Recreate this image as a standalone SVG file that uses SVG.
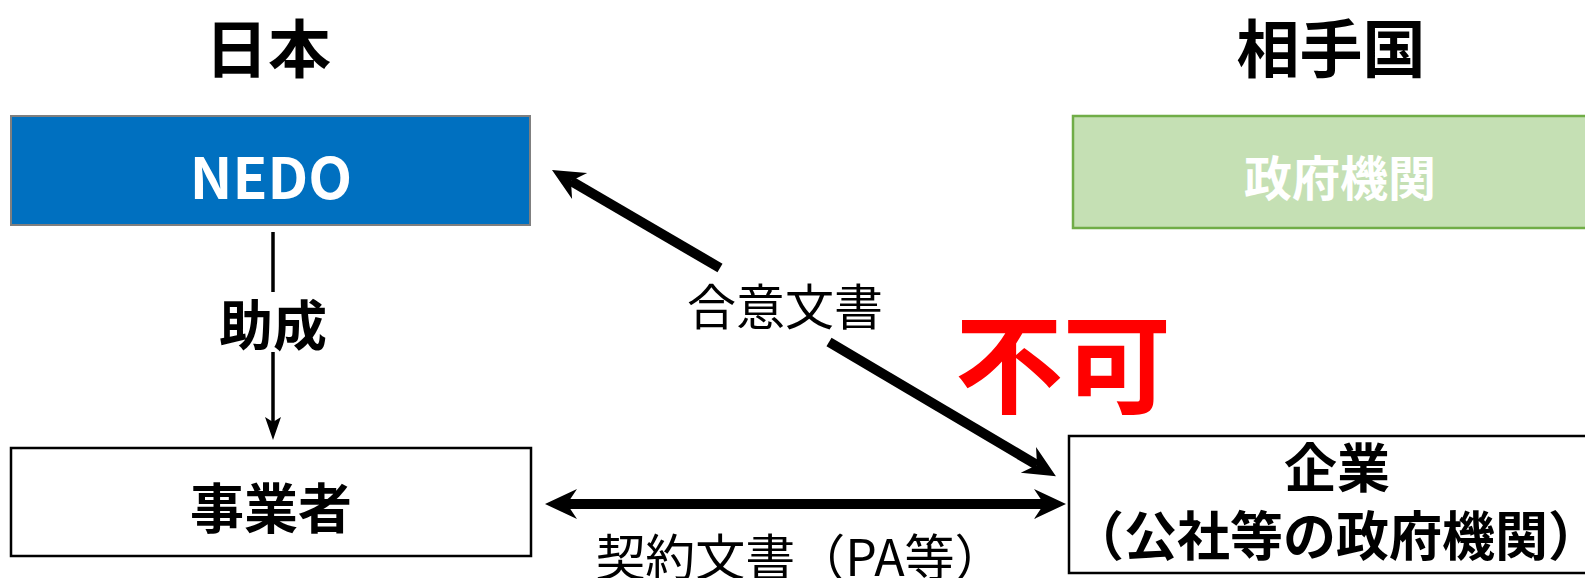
<svg xmlns="http://www.w3.org/2000/svg" width="1585" height="578" viewBox="0 0 1585 578">
<style>
text{font-family:"Noto Sans CJK JP","Noto Sans",sans-serif;text-anchor:middle;dominant-baseline:central}
.b{font-weight:bold}
.conn{stroke:#000;fill:none}
</style>
<defs>
<marker id="big" markerUnits="userSpaceOnUse" markerWidth="40" markerHeight="40" viewBox="-2 -20 40 40" refX="10" refY="0" orient="auto-start-reverse">
<path d="M0,-15 L32,0 L0,15 L10,0 Z" fill="#000"/>
</marker>
<marker id="small" markerUnits="userSpaceOnUse" markerWidth="30" markerHeight="24" viewBox="-2 -12 30 24" refX="5" refY="0" orient="auto">
<path d="M0,-8 L23,0 L0,8 L5,0 Z" fill="#000"/>
</marker>
</defs>
<rect width="1585" height="578" fill="#fff"/>
<text class="b" x="268" y="44" font-size="63">日本</text>
<text class="b" x="1331" y="44" font-size="63">相手国</text>
<g id="nedo">
<rect x="11" y="116" width="519" height="109" fill="#0070C0" stroke="#7F7F7F" stroke-width="2"/>
<text class="b" x="271" y="174" font-size="57" fill="#fff">NEDO</text>
</g>
<g id="gov">
<rect x="1073" y="116" width="520" height="112" fill="#C5E0B4" stroke="#70AD47" stroke-width="2.5"/>
<text class="b" x="1340" y="175" font-size="48" fill="#fff">政府機関</text>
</g>
<g id="jigyosha">
<rect x="11" y="448" width="520" height="108" fill="#fff" stroke="#000" stroke-width="2.5"/>
<text class="b" x="271" y="505" font-size="54">事業者</text>
</g>
<g id="kigyo">
<rect x="1069" y="436" width="530" height="137" fill="#fff" stroke="#000" stroke-width="2.5"/>
<text class="b" x="1337" y="465" font-size="53">企業</text>
<text class="b" x="1336" y="533" font-size="53">（公社等の政府機関）</text>
</g>
<g id="connectors">
<line class="conn" x1="273" y1="232" x2="273" y2="292" stroke-width="3.5"/>
<line class="conn" x1="273" y1="352" x2="273" y2="422" stroke-width="3.5" marker-end="url(#small)"/>
<text class="b" x="273" y="322" font-size="54">助成</text>
<line class="conn" x1="720" y1="268" x2="571" y2="181" stroke-width="10" marker-end="url(#big)"/>
<line class="conn" x1="829" y1="342" x2="1037" y2="465" stroke-width="10" marker-end="url(#big)"/>
<text x="785" y="303" font-size="49">合意文書</text>
<line class="conn" x1="567" y1="504" x2="1044" y2="504" stroke-width="10" marker-start="url(#big)" marker-end="url(#big)"/>
<text x="800" y="554" font-size="50">契約文書（PA等）</text>
</g>
<text class="b" x="1063" y="358" font-size="108" fill="#FF0000">不可</text>
</svg>
